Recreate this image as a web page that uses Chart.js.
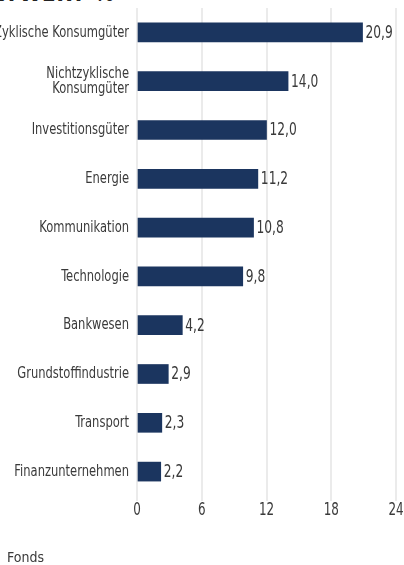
<!DOCTYPE html>
<html>
<head>
<meta charset="utf-8">
<script src="https://cdn.jsdelivr.net/npm/chart.js@4/dist/chart.umd.min.js"></script>
<style>
    html, body { margin: 0; padding: 0; background: #fff; overflow: hidden; }
    body { width: 404px; height: 565px; position: relative; }
    #title {
        position: absolute; left: -200px; width: 315px; top: -17px;
        text-align: right; font: bold 22px "DejaVu Sans Condensed", sans-serif;
        line-height: 22px; color: #222; letter-spacing: 1px;
    }
    #wrap { position: absolute; left: -30px; top: 0; width: 434px; height: 565px; }
</style>
</head>
<body>
<div id="title">MARKTWERT %</div>
<div id="wrap"><canvas id="barChart"></canvas></div>
<script>
// sectors, share of market value in %
const sectors = [
    'Zyklische Konsumgüter',
    ['Nichtzyklische', 'Konsumgüter'],
    'Investitionsgüter',
    'Energie',
    'Kommunikation',
    'Technologie',
    'Bankwesen',
    'Grundstoffindustrie',
    'Transport',
    'Finanzunternehmen'
];
const fondsValues = [20.9, 14.0, 12.0, 11.2, 10.8, 9.8, 4.2, 2.9, 2.3, 2.2];
const xTicks = [0, 6, 12, 18, 24];

const font = '"DejaVu Sans Condensed", sans-serif';
const textColor = '#3a3a3a';
const gridColor = '#ebebeb';

// draw text squeezed horizontally, the original uses a compressed face
function squeezed(ctx, text, x, y, sx) {
    ctx.save();
    ctx.translate(x, y);
    ctx.scale(sx, 1);
    ctx.fillText(text, 0, 0);
    ctx.restore();
}

// category names left of the axis, tick numbers below it
const axisLabels = {
    id: 'axisLabels',
    afterDraw(chart) {
        const ctx = chart.ctx;
        const { y: yScale, x: xScale } = chart.scales;
        const area = chart.chartArea;
        ctx.save();
        ctx.fillStyle = textColor;
        ctx.textBaseline = 'middle';

        ctx.font = `16.5px ${font}`;
        ctx.textAlign = 'right';
        chart.data.labels.forEach((label, i) => {
            const lines = Array.isArray(label) ? label : [label];
            const yc = yScale.getPixelForTick(i) - (lines.length - 1) * 15 / 2;
            lines.forEach((line, j) => squeezed(ctx, line, area.left - 8, yc + j * 15, 0.776));
        });

        ctx.font = `17px ${font}`;
        ctx.textAlign = 'center';
        xTicks.forEach(v => {
            squeezed(ctx, String(v), xScale.getPixelForValue(v), area.bottom + 15, 0.78);
        });
        ctx.restore();
    }
};

// value labels at the end of each bar
const barValues = {
    id: 'barValues',
    afterDatasetsDraw(chart) {
        const ctx = chart.ctx;
        ctx.save();
        ctx.font = `17px ${font}`;
        ctx.fillStyle = textColor;
        ctx.textAlign = 'left';
        ctx.textBaseline = 'middle';
        chart.getDatasetMeta(0).data.forEach((bar, i) => {
            const v = chart.data.datasets[0].data[i];
            squeezed(ctx, v.toFixed(1).replace('.', ','), bar.x + 3, bar.y + 1, 0.8);
        });
        ctx.restore();
    }
};

new Chart(document.getElementById('barChart'), {
    type: 'bar',
    plugins: [ barValues, axisLabels ],
    data: {
        labels: sectors,
        datasets: [{
            label: 'Fonds',
            data: fondsValues,
            backgroundColor: '#1b355f',
            borderWidth: 0,
            barThickness: 19
        }]
    },
    options: {
        indexAxis: 'y',
        responsive: true,
        maintainAspectRatio: false,
        animation: false,
        layout: { padding: { top: 8, right: 8, bottom: -10, left: 0 } },
        plugins: {
            tooltip: { enabled: false },
            legend: {
                position: 'bottom',
                align: 'start',
                labels: {
                    boxWidth: 28,
                    boxHeight: 12,
                    padding: 2,
                    color: textColor,
                    font: { family: font, size: 14 }
                }
            }
        },
        scales: {
            x: {
                min: 0,
                max: 24,
                afterBuildTicks: scale => { scale.ticks = xTicks.map(v => ({ value: v })); },
                afterFit: scale => { scale.height = 53; },
                grid: { color: gridColor, lineWidth: 2, tickLength: 5 },
                border: { display: false },
                ticks: { display: false }
            },
            y: {
                afterFit: scale => { scale.width = 167; },
                grid: { display: false },
                border: { display: false },
                ticks: { display: false }
            }
        }
    }
});
</script>
</body>
</html>
